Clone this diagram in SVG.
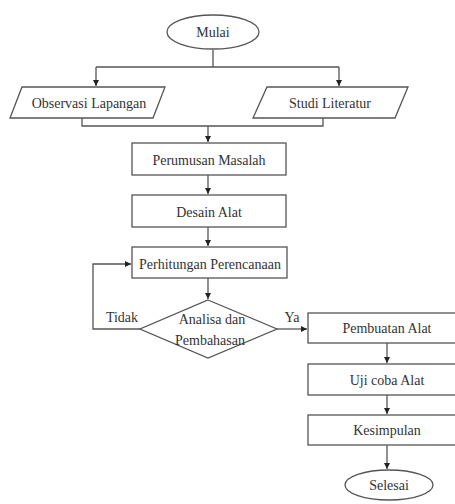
<svg xmlns="http://www.w3.org/2000/svg" width="455" height="504" viewBox="0 0 455 504">
<defs>
<style>
.s{fill:#fff;stroke:#555;stroke-width:1.3}
.t{font-family:"Liberation Serif","Times New Roman",serif;font-size:14px;fill:#333;text-anchor:middle;dominant-baseline:central}
.c{fill:none;stroke:#555;stroke-width:1.3}
</style>
<marker id="a" viewBox="0 0 10 10" refX="10" refY="5" markerWidth="6" markerHeight="6" markerUnits="userSpaceOnUse" orient="auto">
<path d="M0,0L10,5L0,10z" fill="#222"/>
</marker>
</defs>
<rect width="455" height="504" fill="#fff"/>
<g id="connectors">
<path class="c" d="M213,50V67M96,67H339M96,67V86" marker-end="url(#a)"/>
<path class="c" d="M339,67V86" marker-end="url(#a)"/>
<path class="c" d="M82,118V126H323V118"/>
<path class="c" d="M208,126V142" marker-end="url(#a)"/>
<path class="c" d="M208,175V194" marker-end="url(#a)"/>
<path class="c" d="M208,227V246" marker-end="url(#a)"/>
<path class="c" d="M208,278V299" marker-end="url(#a)"/>
<path class="c" d="M140,329H93V264H131" marker-end="url(#a)"/>
<path class="c" d="M277,329H307" marker-end="url(#a)"/>
<path class="c" d="M387,343V363" marker-end="url(#a)"/>
<path class="c" d="M387,395V414" marker-end="url(#a)"/>
<path class="c" d="M387,445V469" marker-end="url(#a)"/>
<text class="t" x="122" y="317">Tidak</text>
<text class="t" x="292" y="317">Ya</text>
</g>
<g id="mulai"><ellipse class="s" cx="213" cy="32" rx="46" ry="17"/><text class="t" x="213" y="32">Mulai</text></g>
<g id="observasi"><polygon class="s" points="22,87 165,87 153,118 10,118"/><text class="t" x="89" y="103">Observasi Lapangan</text></g>
<g id="studi"><polygon class="s" points="267,87 408,87 395,118 253,118"/><text class="t" x="330" y="103">Studi Literatur</text></g>
<g id="perumusan"><rect class="s" x="132" y="143" width="154" height="32"/><text class="t" x="209" y="160">Perumusan Masalah</text></g>
<g id="desain"><rect class="s" x="132" y="195" width="154" height="32"/><text class="t" x="209" y="212">Desain Alat</text></g>
<g id="perhitungan"><rect class="s" x="132" y="247" width="155" height="31"/><text class="t" x="210" y="264">Perhitungan Perencanaan</text></g>
<g id="analisa"><polygon class="s" points="208,300 277,329 208,358 140,329"/><text class="t" x="212" y="319">Analisa dan</text><text class="t" x="210" y="340">Pembahasan</text></g>
<g id="pembuatan"><rect class="s" x="308" y="313" width="158" height="30"/><text class="t" x="387" y="328">Pembuatan Alat</text></g>
<g id="uji"><rect class="s" x="308" y="364" width="158" height="31"/><text class="t" x="387" y="380">Uji coba Alat</text></g>
<g id="kesimpulan"><rect class="s" x="308" y="415" width="158" height="30"/><text class="t" x="387" y="430">Kesimpulan</text></g>
<g id="selesai"><ellipse class="s" cx="389" cy="485" rx="44" ry="15"/><text class="t" x="389" y="485">Selesai</text></g>
</svg>
